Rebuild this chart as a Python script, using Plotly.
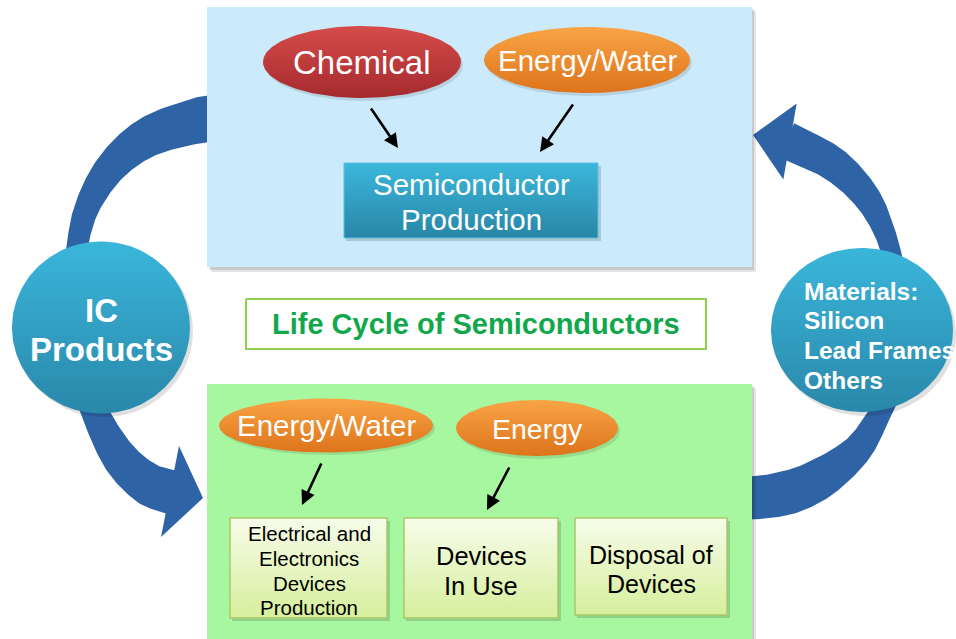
import numpy as np
import plotly.graph_objects as go

W, H = 956, 639

# ---------------- content ----------------
top_inputs = ["Chemical", "Energy/Water"]
top_process = ["Semiconductor", "Production"]
title_text = "Life Cycle of Semiconductors"
left_node = ["IC", "Products"]
right_node = ["Materials:", "Silicon", "Lead Frames", "Others"]
bottom_inputs = ["Energy/Water", "Energy"]
bottom_stages = [["Electrical and", "Electronics", "Devices", "Production"],
                 ["Devices", "In Use"],
                 ["Disposal of", "Devices"]]

FONT = "Liberation Sans, Arial, sans-serif"
ARROW_BLUE = "#2E63A6"

fig = go.Figure()


def poly(xs, ys, fill=None, grad=None, line_color=None, line_width=0):
    xs = list(xs); ys = list(ys)
    kw = dict(x=xs, y=ys, mode="lines", fill="toself", hoverinfo="skip",
              showlegend=False)
    if grad is not None:
        kw["fillgradient"] = dict(type="vertical",
                                  colorscale=[[0, grad[0]], [1, grad[1]]],
                                  start=min(ys), stop=max(ys))
    else:
        kw["fillcolor"] = fill
    kw["line"] = dict(color=line_color or "rgba(0,0,0,0)", width=line_width)
    fig.add_trace(go.Scatter(**kw))


def rect(x0, y0, x1, y1, **kw):
    poly([x0, x1, x1, x0, x0], [y0, y0, y1, y1, y0], **kw)


def ellipse(cx, cy, rx, ry, **kw):
    t = np.linspace(0, 2 * np.pi, 160)
    poly(cx + rx * np.cos(t), cy + ry * np.sin(t), **kw)


def catmull(pts, n=24):
    P = np.array(pts, float)
    out = []
    for i in range(len(P) - 1):
        p0 = P[max(i - 1, 0)]; p1 = P[i]; p2 = P[i + 1]; p3 = P[min(i + 2, len(P) - 1)]
        for t in np.linspace(0, 1, n, endpoint=False):
            t2 = t * t; t3 = t2 * t
            out.append(0.5 * ((2 * p1) + (-p0 + p2) * t
                              + (2 * p0 - 5 * p1 + 4 * p2 - p3) * t2
                              + (-p0 + 3 * p1 - 3 * p2 + p3) * t3))
    out.append(P[-1])
    return np.array(out)


def widths(ws, n=24):
    out = []
    for i in range(len(ws) - 1):
        for t in np.linspace(0, 1, n, endpoint=False):
            out.append(ws[i] * (1 - t) + ws[i + 1] * t)
    out.append(ws[-1])
    return np.array(out)


def band(pts, ws, color):
    C = catmull(pts)
    Wd = widths(ws)
    d = np.gradient(C, axis=0)
    d /= np.linalg.norm(d, axis=1)[:, None]
    nrm = np.stack([-d[:, 1], d[:, 0]], 1)
    A = C + nrm * Wd[:, None] / 2
    B = C - nrm * Wd[:, None] / 2
    P = np.vstack([A, B[::-1], A[:1]])
    poly(P[:, 0], P[:, 1], fill=color)


def head(base, tip, half, color):
    base = np.array(base, float); tip = np.array(tip, float)
    d = tip - base; d /= np.linalg.norm(d)
    n = np.array([-d[1], d[0]])
    P = np.array([base + n * half, tip, base - n * half, base + n * half])
    poly(P[:, 0], P[:, 1], fill=color)


# ---------------- big circular arrows ----------------
L_pts = [(232, 117), (201, 120), (150, 136), (113, 165), (88, 205), (77, 247),
         (71, 300), (78, 365), (95, 413), (120, 458), (148, 484), (174, 493)]
L_w = [46, 46, 40, 32, 25, 21, 20, 22, 27, 36, 42, 44]
band(L_pts, L_w, ARROW_BLUE)
head((170, 491.5), (203, 498), 46.5, ARROW_BLUE)

R_pts = [(786, 140), (832, 163), (865, 195), (885, 233), (897, 280), (900, 330),
         (893, 385), (878, 417), (857, 450), (823, 477), (790, 492), (753, 498), (725, 498)]
R_w = [37, 34, 28, 21, 18, 18, 19, 22, 30, 40, 44, 43, 43]
band(R_pts, R_w, ARROW_BLUE)
head((790, 141.5), (753, 135), 38.5, ARROW_BLUE)

# ---------------- panels ----------------
rect(211, 11, 756, 272, fill="rgba(0,0,0,0.10)")
rect(209, 9, 754, 270, fill="rgba(0,0,0,0.12)")
rect(207, 7, 752, 267, fill="#CBEAFB")

rect(211, 388, 756, 639, fill="rgba(0,0,0,0.10)")
rect(209, 386, 754, 639, fill="rgba(0,0,0,0.12)")
rect(207, 384, 752, 639, fill="#A7F7A0")

# ---------------- side circles ----------------
ellipse(104, 331, 89, 86, fill="rgba(0,0,0,0.12)")
ellipse(101, 327.5, 89, 86, grad=("#3AB6DB", "#2A88AA"))
ellipse(865, 334, 91, 82, fill="rgba(0,0,0,0.12)")
ellipse(862, 330, 91, 82, grad=("#3AB6DB", "#2A88AA"))

# ---------------- title box ----------------
rect(246, 299, 706, 349, fill="white", line_color="#8FD14F", line_width=2)

# ---------------- top panel items ----------------
ellipse(364, 65, 99, 36, fill="rgba(0,0,0,0.10)")
ellipse(362, 62, 99, 36, grad=("#D64C4B", "#A52A2D"))
ellipse(589, 63, 103, 33, fill="rgba(0,0,0,0.10)")
ellipse(587, 60, 103, 33, grad=("#F9A445", "#DD741B"))
rect(346, 166, 601, 241, fill="rgba(0,0,0,0.15)")
rect(344, 163, 598, 238, grad=("#3CB7DB", "#2886A7"), line_color="#5CC3E0", line_width=1)

# ---------------- bottom panel items ----------------
ellipse(328, 428, 107, 27, fill="rgba(0,0,0,0.10)")
ellipse(326, 425.5, 107, 27, grad=("#F9A445", "#DD741B"))
ellipse(539, 431, 81, 28, fill="rgba(0,0,0,0.10)")
ellipse(537, 428, 81, 28, grad=("#F9A445", "#DD741B"))

box_rects = [(230, 518, 387, 618), (404, 518, 558, 618), (575, 518, 727, 615)]
for (x0, y0, x1, y1) in box_rects:
    rect(x0 + 2, y0 + 3, x1 + 3, y1 + 3, fill="rgba(0,0,0,0.15)")
    rect(x0, y0, x1, y1, grad=("#F7FCEA", "#D6EF9C"), line_color="#A9C86A", line_width=1.5)

# ---------------- annotations ----------------
ann = []


def txt(x, y, s, size, color, bold=False, xanchor="center"):
    ann.append(dict(x=x, y=y, xref="x", yref="y", text=f"<b>{s}</b>" if bold else s,
                    showarrow=False, xanchor=xanchor, yanchor="middle",
                    font=dict(family=FONT, size=size, color=color)))


def arr(x0, y0, x1, y1):
    ann.append(dict(x=x1, y=y1, ax=x0, ay=y0, xref="x", yref="y", axref="x", ayref="y",
                    text="", showarrow=True, arrowhead=2, arrowsize=1.1, arrowwidth=2.6,
                    arrowcolor="black", standoff=0, startstandoff=0))


txt(362, 62, top_inputs[0], 33, "white")
txt(587, 60, top_inputs[1], 29.5, "white")
txt(471, 184, top_process[0], 29.5, "white")
txt(471, 219, top_process[1], 29.5, "white")
arr(370, 107, 398, 148)
arr(574, 103, 540, 152)

txt(476, 324, title_text, 29, "#10A84A", bold=True)

txt(101, 310, left_node[0], 33, "white", bold=True)
txt(101, 349, left_node[1], 33, "white", bold=True)
for i, s in enumerate(right_node):
    txt(802, [291, 320, 350, 380][i], s, 24.5, "white", bold=True, xanchor="left")

txt(326, 425, bottom_inputs[0], 29.5, "white")
txt(537, 429, bottom_inputs[1], 28.5, "white")
arr(322, 462, 302, 505)
arr(510, 466, 487, 510)

for (x, ys, size), lines in zip([(309, [533, 558, 583, 607], 20.5),
                                 (481, [556, 586], 25.5),
                                 (651, [555, 584], 25)], bottom_stages):
    for y, s in zip(ys, lines):
        txt(x, y, s, size, "black")

fig.update_layout(
    width=W, height=H, autosize=False,
    margin=dict(l=0, r=0, t=0, b=0),
    paper_bgcolor="white", plot_bgcolor="white",
    xaxis=dict(range=[0, W], visible=False, fixedrange=True),
    yaxis=dict(range=[H, 0], visible=False, fixedrange=True),
    annotations=ann, showlegend=False,
)
fig.write_html("out.html", config={"displayModeBar": False},
               post_script="document.body.style.margin='0';document.body.style.overflow='hidden';")
